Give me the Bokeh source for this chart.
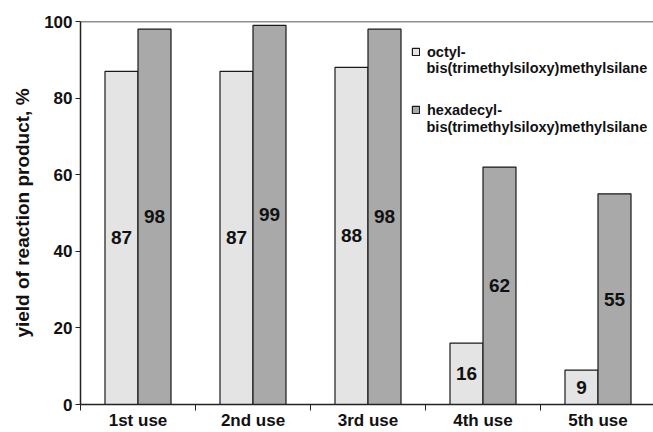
from bokeh.plotting import figure
from bokeh.models import (Range1d, FixedTicker, ColumnDataSource, Legend, LegendItem,
                          Span, Label, Title)
from bokeh.transform import dodge
from bokeh.core.properties import value
from bokeh.embed import file_html
from bokeh.resources import INLINE

categories = ["1st use", "2nd use", "3rd use", "4th use", "5th use"]
octyl = [87, 87, 88, 16, 9]
hexadecyl = [98, 99, 98, 62, 55]
series_first = ["octyl-", "hexadecyl-"]
series_second = ["bis(trimethylsiloxy)methylsilane", "bis(trimethylsiloxy)methylsilane"]
y_ticks = [0, 20, 40, 60, 80, 100]
y_label = "yield of reaction product, %"

FONT = "Liberation Sans"
BW = 0.287

centers = [i + 0.5 for i in range(len(categories))]
src = ColumnDataSource(dict(
    x=centers, octyl=octyl, hexa=hexadecyl,
    octyl_mid=[v / 2 for v in octyl], hexa_mid=[v / 2 for v in hexadecyl],
    octyl_txt=[str(v) for v in octyl], hexa_txt=[str(v) for v in hexadecyl],
))

p = figure(width=653, height=432, output_backend="svg", toolbar_location=None,
           x_range=Range1d(0, 573 / 115), y_range=Range1d(0, 100),
           min_border_left=80, min_border_right=0, min_border_top=21, min_border_bottom=26)
p.outline_line_color = None
p.grid.visible = False
p.background_fill_color = "white"

r1 = p.vbar(x=dodge("x", -BW / 2, range=p.x_range), top="octyl", width=BW, source=src,
            fill_color="#e4e4e4", line_color="#1a1a1a", line_width=1.2)
r2 = p.vbar(x=dodge("x", BW / 2, range=p.x_range), top="hexa", width=BW, source=src,
            fill_color="#a9a9a9", line_color="#1a1a1a", line_width=1.2)

p.text(x=dodge("x", -BW / 2, range=p.x_range), y="octyl_mid", text="octyl_txt", source=src,
       text_font=value(FONT), text_font_style="bold", text_font_size="19px",
       text_align="center", text_baseline="middle", text_color="#111111")
p.text(x=dodge("x", BW / 2, range=p.x_range), y="hexa_mid", text="hexa_txt", source=src,
       text_font=value(FONT), text_font_style="bold", text_font_size="19px",
       text_align="center", text_baseline="middle", text_color="#111111")

# top frame line
p.add_layout(Span(location=100, dimension="width", line_color="#222222", line_width=1.5))

# x axis
xa = p.xaxis[0]
xa.ticker = FixedTicker(ticks=centers, minor_ticks=list(range(len(categories) + 1)))
xa.major_label_overrides = {c: lab for c, lab in zip(centers, categories)}
xa.major_tick_out = 0
xa.major_tick_in = 0
xa.minor_tick_out = 6
xa.minor_tick_in = 0
xa.minor_tick_line_color = "#222222"
xa.axis_line_color = "#222222"
xa.axis_line_width = 1.5
xa.major_label_standoff = 0
xa.major_label_text_font = FONT
xa.major_label_text_font_style = "bold"
xa.major_label_text_font_size = "17px"
xa.major_label_text_color = "#111111"

# y axis
ya = p.yaxis[0]
ya.ticker = FixedTicker(ticks=y_ticks)
ya.minor_tick_line_color = None
ya.major_tick_out = 5
ya.major_tick_in = 0
ya.major_tick_line_color = "#222222"
ya.axis_line_color = "#222222"
ya.axis_line_width = 1.5
ya.major_label_standoff = 3
ya.major_label_text_font = FONT
ya.major_label_text_font_style = "bold"
ya.major_label_text_font_size = "17px"
ya.major_label_text_color = "#111111"

p.add_layout(Title(text=y_label, align="center", offset=30, standoff=17,
                   text_font=FONT, text_font_style="bold", text_font_size="19px",
                   text_color="#111111"), "left")

legend = Legend(items=[LegendItem(label=series_first[0], renderers=[r1]),
                       LegendItem(label=series_first[1], renderers=[r2])],
                location=(331, 286), orientation="vertical")
legend.border_line_color = None
legend.background_fill_alpha = 0
legend.padding = 0
legend.margin = 0
legend.glyph_width = 9
legend.glyph_height = 9
legend.label_standoff = 7
legend.spacing = 41
legend.label_text_font = FONT
legend.label_text_font_style = "bold"
legend.label_text_font_size = "14.5px"
legend.label_text_color = "#111111"
legend.label_height = 17
p.add_layout(legend)

for txt, yy in zip(series_second, [336.5, 277.8]):
    p.add_layout(Label(x=346, y=yy, x_units="screen", y_units="screen", text=txt,
                       text_font=FONT, text_font_style="bold", text_font_size="14.5px",
                       text_align="left", text_baseline="middle", text_color="#111111"))

open("out.html", "w").write(file_html(p, INLINE))
